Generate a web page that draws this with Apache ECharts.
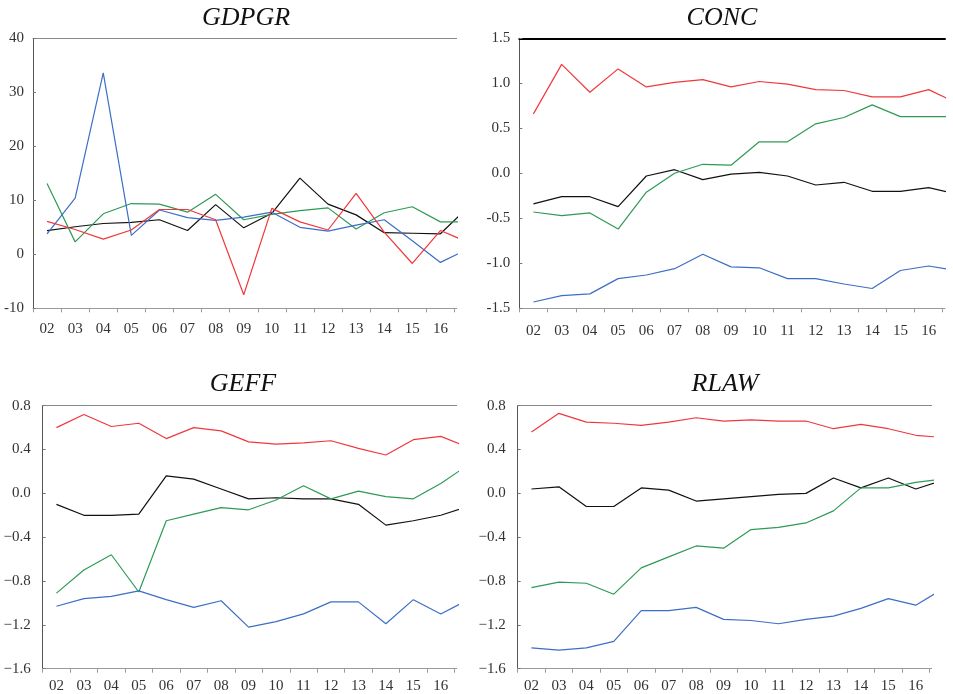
<!DOCTYPE html>
<html>
<head>
<meta charset="utf-8">
<script src="https://cdn.jsdelivr.net/npm/echarts@6/dist/echarts.min.js"></script>
<style>
html,body{margin:0;padding:0;background:#fff;}
#chart{width:953px;height:694px;}
</style>
</head>
<body>
<div id="chart"></div>
<script>
// x-axis labels (years 2002-2016); data run 2002-2017, last point clipped at the frame edge
const xLabels = ['02','03','04','05','06','07','08','09','10','11','12','13','14','15','16'];

// GDPGR
const gdpgrRed   = [6.1, 4.6, 2.8, 4.5, 8.3, 8.3, 6.4, -7.5, 8.5, 6.0, 4.5, 11.3, 4.1, -1.7, 4.4, 2.2];
const gdpgrBlue  = [3.8, 10.4, 33.6, 3.5, 8.2, 6.8, 6.3, 6.9, 7.8, 5.0, 4.3, 5.4, 6.4, 2.5, -1.5, 1.0];
const gdpgrGreen = [13.1, 2.3, 7.5, 9.4, 9.3, 7.8, 11.1, 6.4, 7.4, 8.1, 8.6, 4.7, 7.7, 8.8, 6.0, 6.0];
const gdpgrBlack = [4.4, 5.1, 5.7, 5.9, 6.4, 4.4, 9.2, 4.9, 7.6, 14.1, 9.3, 7.3, 4.0, 3.9, 3.8, 8.8];

// CONC
const concRed   = [0.66, 1.21, 0.90, 1.16, 0.96, 1.01, 1.04, 0.96, 1.02, 0.99, 0.93, 0.92, 0.85, 0.85, 0.93, 0.78];
const concBlue  = [-1.43, -1.36, -1.34, -1.17, -1.13, -1.06, -0.90, -1.04, -1.05, -1.17, -1.17, -1.23, -1.28, -1.08, -1.03, -1.08];
const concGreen = [-0.43, -0.47, -0.44, -0.62, -0.21, 0.00, 0.10, 0.09, 0.35, 0.35, 0.55, 0.62, 0.76, 0.63, 0.63, 0.63];
const concBlack = [-0.34, -0.26, -0.26, -0.37, -0.03, 0.04, -0.07, -0.01, 0.01, -0.03, -0.13, -0.10, -0.20, -0.20, -0.16, -0.23];

// GEFF
const geffRed   = [0.60, 0.72, 0.61, 0.64, 0.50, 0.60, 0.57, 0.47, 0.45, 0.46, 0.48, 0.41, 0.35, 0.49, 0.52, 0.42];
const geffBlue  = [-1.03, -0.96, -0.94, -0.89, -0.97, -1.04, -0.98, -1.22, -1.17, -1.10, -0.99, -0.99, -1.19, -0.97, -1.10, -0.97];
const geffGreen = [-0.91, -0.70, -0.56, -0.90, -0.25, -0.19, -0.13, -0.15, -0.06, 0.07, -0.05, 0.02, -0.03, -0.05, 0.09, 0.26];
const geffBlack = [-0.10, -0.20, -0.20, -0.19, 0.16, 0.13, 0.04, -0.05, -0.04, -0.05, -0.05, -0.10, -0.29, -0.25, -0.20, -0.12];

// RLAW
const rlawRed   = [0.56, 0.73, 0.65, 0.64, 0.62, 0.65, 0.69, 0.66, 0.67, 0.66, 0.66, 0.59, 0.63, 0.59, 0.53, 0.51];
const rlawBlue  = [-1.41, -1.43, -1.41, -1.35, -1.07, -1.07, -1.04, -1.15, -1.16, -1.19, -1.15, -1.12, -1.05, -0.96, -1.02, -0.87];
const rlawGreen = [-0.86, -0.81, -0.82, -0.92, -0.68, -0.58, -0.48, -0.50, -0.33, -0.31, -0.27, -0.16, 0.05, 0.05, 0.10, 0.13];
const rlawBlack = [0.04, 0.06, -0.12, -0.12, 0.05, 0.03, -0.07, -0.05, -0.03, -0.01, 0.00, 0.14, 0.05, 0.14, 0.04, 0.12];

const titles = ['GDPGR', 'CONC', 'GEFF', 'RLAW'];
const yMins = [-10, -1.5, -1.6, -1.6];
const yMaxs = [40, 1.5, 0.8, 0.8];
const yIntervals = [10, 0.5, 0.4, 0.4];

const FONT = "'Liberation Serif', 'Times New Roman', serif";
const COLORS = {red: '#f0383c', blue: '#3d6ec6', green: '#2e9a56', black: '#111111'};

const panels = [
  {red: gdpgrRed, blue: gdpgrBlue, green: gdpgrGreen, black: gdpgrBlack},
  {red: concRed, blue: concBlue, green: concGreen, black: concBlack},
  {red: geffRed, blue: geffBlue, green: geffGreen, black: geffBlack},
  {red: rlawRed, blue: rlawBlue, green: rlawGreen, black: rlawBlack}
];

const grids = [
  {left: 33, top: 38.3, width: 423.7, height: 270},
  {left: 519.3, top: 38.3, width: 425.7, height: 270},
  {left: 42.7, top: 405.7, width: 414, height: 263},
  {left: 517.7, top: 405.7, width: 414, height: 263}
];
const titlePos = [{x: 246, y: 5}, {x: 722, y: 5}, {x: 243, y: 371}, {x: 725, y: 371}];
const topLineColors = ['#8a8a8a', '#000000', '#8a8a8a', '#8a8a8a'];
const topLineWidths = [1, 2, 1, 1];
const xLabelMargins = [13, 15, 10, 10];

const labelIdx = xLabels.map((_, i) => i);
const tickIdx = xLabels.map((_, i) => i - 0.5).concat([xLabels.length - 0.5]);

function yFmt(p) {
  return function (v) {
    if (p === 0) return String(Math.round(v));
    const s = Math.abs(v).toFixed(1);
    if (v < -1e-9) return (p === 1 ? '-' : '\u2212') + s;
    return s;
  };
}

const option = {
  animation: false,
  backgroundColor: '#ffffff',
  title: titles.map((t, i) => ({
    text: t, left: titlePos[i].x, top: titlePos[i].y, textAlign: 'center', padding: 0,
    textStyle: {fontFamily: FONT, fontStyle: 'italic', fontWeight: 'normal', fontSize: 26, color: '#111'}
  })),
  grid: grids.map(g => Object.assign({containLabel: false}, g)),
  xAxis: [],
  yAxis: [],
  series: []
};

panels.forEach((p, i) => {
  option.xAxis.push({
    type: 'value', gridIndex: i, position: 'bottom', min: -0.5, max: 14.58,
    axisLine: {show: true, onZero: false, lineStyle: {color: '#9a9a9a', width: 1}},
    axisTick: {show: true, customValues: tickIdx, length: 4, lineStyle: {color: '#9a9a9a'}},
    axisLabel: {
      customValues: labelIdx, margin: xLabelMargins[i],
      formatter: v => xLabels[Math.round(v)] || '',
      fontFamily: FONT, fontSize: 15, color: '#333'
    },
    splitLine: {show: false}
  });
  option.xAxis.push({
    type: 'value', gridIndex: i, position: 'top', min: -0.5, max: 14.58,
    axisLine: {show: true, onZero: false, lineStyle: {color: topLineColors[i], width: topLineWidths[i]}},
    axisTick: {show: false}, axisLabel: {show: false}, splitLine: {show: false}
  });
  option.yAxis.push({
    type: 'value', gridIndex: i, min: yMins[i], max: yMaxs[i], interval: yIntervals[i],
    axisLine: {show: true, onZero: false, lineStyle: {color: '#555', width: 1}},
    axisTick: {show: true, inside: true, length: 3, lineStyle: {color: '#777'}},
    axisLabel: {formatter: yFmt(i), margin: i < 2 ? 9 : 12, fontFamily: FONT, fontSize: 15, color: '#333'},
    splitLine: {show: false}
  });
  ['black', 'green', 'blue', 'red'].forEach(name => {
    option.series.push({
      type: 'line', xAxisIndex: i * 2, yAxisIndex: i,
      data: p[name].map((v, k) => [k, v]),
      showSymbol: false, symbol: 'none', clip: true,
      lineStyle: {color: COLORS[name], width: 1.2},
      itemStyle: {color: COLORS[name]}
    });
  });
});

const chart = echarts.init(document.getElementById('chart'), null, {renderer: 'canvas'});
chart.setOption(option);
</script>
</body>
</html>
